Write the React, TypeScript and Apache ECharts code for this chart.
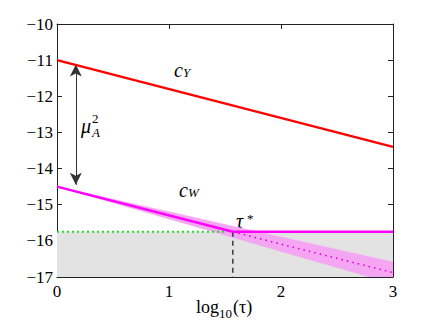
import React, { useEffect, useRef } from "react";
import * as echarts from "echarts";

const FONT = "Liberation Serif";

// data
const cY = [[0, -11], [3, -13.4]];
const cW = [[0, -14.5], [1.57, -15.75], [3, -15.75]];
const cWext = [[1.57, -15.75], [3, -16.88]];
const noiseFloor = [[0, -15.75], [1.5, -15.75]];
const grayRegion = [[0, -15.75], [3, -15.75]];
const tauStar = [[1.57, -15.75], [1.57, -17]];
const bandX = [0, 0.5, 1, 1.5, 2, 2.5, 3];
const bandUpper = [-14.5, -14.848, -15.196, -15.544, -15.892, -16.24, -16.588];
const bandLower = [-14.5, -14.948, -15.396, -15.844, -16.292, -16.74, -17.188];
const arrowX = 0.168;
const arrowTop = -11.12;
const arrowBottom = -14.45;

export default function App() {
  const ref = useRef<HTMLDivElement>(null);
  useEffect(() => {
    const chart = echarts.init(ref.current!, null, { renderer: "svg" });
    const bandData = bandX.map((x, i) => [x, bandUpper[i], bandLower[i]]);
    const axisLbl = {
      fontFamily: FONT,
      fontSize: 17,
      color: "#000",
    };
    const fmt = (v: number) => String(v).replace("-", "\u2212");
    const txt = (left: number, top: number, text: string, size: number, italic: boolean) => ({
      type: "text",
      left,
      top,
      style: {
        text,
        fontFamily: FONT,
        fontSize: size,
        fontStyle: italic ? "italic" : "normal",
        fill: "#000",
      },
    });
    chart.setOption({
      animation: false,
      textStyle: { fontFamily: FONT },
      grid: { left: 57, right: 41, top: 24, bottom: 51 },
      xAxis: [
        {
          type: "value",
          min: 0,
          max: 3,
          interval: 1,
          splitLine: { show: false },
          axisLine: { show: true, onZero: false, lineStyle: { color: "#222", width: 1 } },
          axisTick: { show: true, inside: true, length: 5, lineStyle: { color: "#222" } },
          axisLabel: { ...axisLbl, margin: 6, formatter: fmt },
        },
        {
          type: "value",
          position: "top",
          min: 0,
          max: 3,
          interval: 1,
          splitLine: { show: false },
          axisLine: { show: true, onZero: false, lineStyle: { color: "#222", width: 1 } },
          axisTick: { show: true, inside: true, length: 5, lineStyle: { color: "#222" } },
          axisLabel: { show: false },
        },
      ],
      yAxis: [
        {
          type: "value",
          min: -17,
          max: -10,
          interval: 1,
          splitLine: { show: false },
          axisLine: { show: true, onZero: false, lineStyle: { color: "#222", width: 1 } },
          axisTick: { show: true, inside: true, length: 5, lineStyle: { color: "#222" } },
          axisLabel: { ...axisLbl, margin: 4, formatter: fmt },
        },
        {
          type: "value",
          position: "right",
          min: -17,
          max: -10,
          interval: 1,
          splitLine: { show: false },
          axisLine: { show: true, onZero: false, lineStyle: { color: "#222", width: 1 } },
          axisTick: { show: true, inside: true, length: 5, lineStyle: { color: "#222" } },
          axisLabel: { show: false },
        },
      ],
      series: [
        {
          type: "line",
          data: grayRegion,
          symbol: "none",
          lineStyle: { width: 0 },
          areaStyle: { color: "#e3e3e3", opacity: 1, origin: "start" },
          z: 1,
        },
        {
          type: "custom",
          clip: true,
          data: bandData,
          encode: { x: 0, y: [1, 2] },
          z: 2,
          renderItem: (params: any, api: any) => {
            const i = params.dataIndex;
            if (i >= bandData.length - 1) return null;
            const a = bandData[i];
            const b = bandData[i + 1];
            const pts = [
              api.coord([a[0], a[1]]),
              api.coord([b[0], b[1]]),
              api.coord([b[0], b[2]]),
              api.coord([a[0], a[2]]),
            ];
            return {
              type: "polygon",
              shape: { points: pts },
              style: { fill: "#f5a6f3", stroke: "#f5a6f3", lineWidth: 0.5 },
            };
          },
        },
        {
          type: "line",
          data: noiseFloor,
          symbol: "none",
          lineStyle: { color: "#22e022", width: 2, type: [2, 3] },
          z: 3,
        },
        {
          type: "line",
          data: cWext,
          symbol: "none",
          lineStyle: { color: "#ee00ee", width: 1.6, type: [1.6, 4] },
          z: 4,
        },
        {
          type: "line",
          data: tauStar,
          symbol: "none",
          lineStyle: { color: "#111", width: 1.2, type: [5, 4] },
          z: 5,
        },
        {
          type: "line",
          data: cW,
          symbol: "none",
          lineStyle: { color: "#ff00ff", width: 2.5 },
          z: 6,
        },
        {
          type: "line",
          data: cY,
          symbol: "none",
          lineStyle: { color: "#ff0000", width: 2.5 },
          z: 6,
          markLine: {
            silent: true,
            symbol: ["arrow", "arrow"],
            symbolSize: [9, 12],
            label: { show: false },
            lineStyle: { color: "#333", width: 1, type: "solid" },
            data: [[{ coord: [arrowX, arrowTop] }, { coord: [arrowX, arrowBottom] }]],
          },
        },
      ],
      graphic: [
        txt(174, 60, "c", 20, true),
        txt(183, 66, "Y", 13, true),
        txt(179, 180, "c", 20, true),
        txt(188, 186, "W", 13, true),
        txt(81, 116, "\u03bc", 20, true),
        txt(92, 112, "2", 13, false),
        txt(92, 126, "A", 13, true),
        txt(236, 211, "\u03c4", 20, true),
        txt(247, 212, "*", 13, false),
        txt(196, 298, "log", 18, false),
        txt(219, 307, "10", 13, false),
        txt(233, 298, "(\u03c4)", 18, false),
      ],
    });
    return () => chart.dispose();
  }, []);
  return (
    <div
      ref={ref}
      style={{ position: "fixed", left: 0, top: 0, width: 434, height: 328, background: "#fff" }}
    />
  );
}
